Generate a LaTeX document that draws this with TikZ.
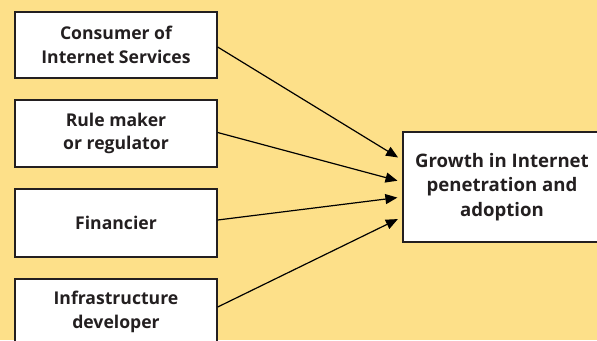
\documentclass[tikz,border=0pt]{standalone}
\usepackage{fontspec}
\setmainfont{Open Sans}
\usetikzlibrary{arrows.meta,calc}
\definecolor{bgyellow}{RGB}{253,224,137}
\definecolor{ink}{RGB}{35,31,32}
\tikzset{
  box/.style={draw=ink,line width=1.3bp,fill=white,minimum width=202bp,inner sep=0pt,
    align=center,text=ink,font=\fontsize{17.6bp}{23.5bp}\selectfont\bfseries},
  bigbox/.style={box,font=\fontsize{18.6bp}{24.5bp}\selectfont\bfseries},
  arr/.style={draw=black,line width=1.2bp,-{Triangle[length=12bp,width=10bp]},shorten >=5bp}
}
\begin{document}
\begin{tikzpicture}[x=1bp,y=1bp]
\useasboundingbox (0,0) rectangle (597,340);
\clip (0,0) rectangle (597,340);
\fill[bgyellow] (0,0) rectangle (597,340);
\node[box,minimum height=66bp] (b1) at (116,295) {Consumer of\\Internet Services};
\node[box,minimum height=67bp] (b2) at (116,206.5) {Rule maker\\or regulator};
\node[box,minimum height=68bp] (b3) at (116,117) {Financier};
\node[box,minimum height=66bp] (b4) at (116,28) {Infrastructure\\developer};
\node[bigbox,minimum width=198bp,minimum height=110bp] (g) at (502,153) {Growth in Internet\\penetration and\\adoption};
\draw[arr] ([yshift=-2]b1.east) -- ([yshift=27]g.west);
\draw[arr] ([yshift=1]b2.east) -- ([yshift=5]g.west);
\draw[arr] ([yshift=3]b3.east) -- ([yshift=-10]g.west);
\draw[arr] ([yshift=5]b4.east) -- ([yshift=-30]g.west);
\end{tikzpicture}
\end{document}
